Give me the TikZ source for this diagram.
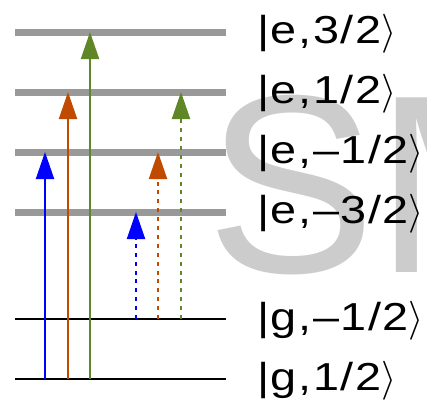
\RequirePackage{fix-cm}
\documentclass[tikz,border=0pt]{standalone}
\usepackage{fontspec}
\setmainfont{Liberation Sans}
\newfontfamily\labelfont[FakeStretch=1.2,LetterSpace=4]{Liberation Sans}
\usetikzlibrary{arrows.meta}
\definecolor{lvlgray}{RGB}{153,153,153}
\definecolor{wmgray}{RGB}{204,204,204}
\definecolor{tblue}{RGB}{0,0,255}
\definecolor{torange}{RGB}{192,75,0}
\definecolor{tgreen}{RGB}{95,135,40}
\begin{document}
\begin{tikzpicture}[x=1pt,y=-1pt,
  excited/.style={draw=lvlgray,line width=7pt},
  ground/.style={draw=black,line width=2pt},
  trans/.style={line width=2pt,-{Triangle[length=27pt,width=18pt]}},
  dtrans/.style={trans,dash pattern=on 4pt off 4.9pt},
  lbl/.style={anchor=base west,inner sep=0pt,font=\labelfont\fontsize{39}{39}\selectfont}]
\useasboundingbox (0,0) rectangle (427,408);
\clip (0,0) rectangle (427,408);
% watermark
\node[anchor=base west,inner sep=0pt,text=wmgray,font=\fontsize{254}{254}\selectfont] (wm) at (206,272) {SM};
% level end points
\foreach \n/\y in {e32/32,e12/92,em12/152,em32/212,gm12/319,g12/379}{
  \coordinate (\n L) at (15,\y);
  \coordinate (\n R) at (226,\y);
}
% levels
\draw[excited] (e32L) -- (e32R);
\draw[excited] (e12L) -- (e12R);
\draw[excited] (em12L) -- (em12R);
\draw[excited] (em32L) -- (em32R);
\draw[ground] (gm12L) -- (gm12R);
\draw[ground] (g12L) -- (g12R);
% labels
\node[lbl] (le32) at (257,43) {|e,3/2$\rangle$};
\node[lbl] (le12) at (257,103) {|e,1/2$\rangle$};
\node[lbl] (lem12) at (257,163) {|e,–1/2$\rangle$};
\node[lbl] (lem32) at (257,223) {|e,–3/2$\rangle$};
\node[lbl] (lgm12) at (257,330) {|g,–1/2$\rangle$};
\node[lbl] (lg12) at (257,390) {|g,1/2$\rangle$};
% transition end points
\coordinate (a1s) at (45,379);  \coordinate (a1e) at (45,152);
\coordinate (a2s) at (68,379);  \coordinate (a2e) at (68,92);
\coordinate (a3s) at (90,379);  \coordinate (a3e) at (90,32);
\coordinate (b1s) at (136,319); \coordinate (b1e) at (136,212);
\coordinate (b2s) at (158,319); \coordinate (b2e) at (158,152);
\coordinate (b3s) at (181,319); \coordinate (b3e) at (181,92);
% transitions
\draw[trans,tblue] (a1s) -- (a1e);
\draw[trans,torange] (a2s) -- (a2e);
\draw[trans,tgreen] (a3s) -- (a3e);
\draw[dtrans,tblue] (b1s) -- (b1e);
\draw[dtrans,torange] (b2s) -- (b2e);
\draw[dtrans,tgreen] (b3s) -- (b3e);
\end{tikzpicture}
\end{document}
